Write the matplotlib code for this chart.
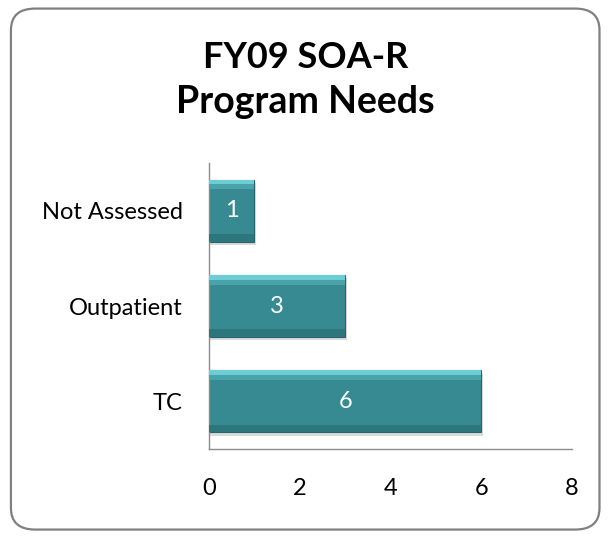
import matplotlib.pyplot as plt
from matplotlib.patches import FancyBboxPatch

categories = ["TC", "Outpatient", "Not Assessed"]
values = [6, 3, 1]
x_ticks = [0, 2, 4, 6, 8]

BAR_COLOR = "#378a91"
EDGE_COLOR = "#26666c"
HIGHLIGHT = "#6ccdd5"
AXIS_COLOR = "#8c8c8c"

plt.rcParams["font.family"] = ["Lato", "DejaVu Sans"]

fig = plt.figure(figsize=(6.08, 5.36), dpi=100)

# rounded frame around the whole chart
frame = FancyBboxPatch(
    (0.018, 0.012), 0.968, 0.972,
    boxstyle="round,pad=0,rounding_size=0.04",
    transform=fig.transFigure, facecolor="white",
    edgecolor="#808080", lw=1.6, zorder=-10,
)
fig.patches.append(frame)

fig.text(0.502, 1 - 57 / 536, "FY09 SOA-R", ha="center", va="center",
         fontsize=26, fontweight="bold", color="black")
fig.text(0.502, 1 - 102 / 536, "Program Needs", ha="center", va="center",
         fontsize=27, fontweight="bold", color="black")

ax = fig.add_axes([0.3438, 0.1623, 0.597, 0.5336], zorder=5)
ax.patch.set_alpha(0)

ypos = list(range(len(categories)))
h = 0.65
# soft shadow under each bar
ax.barh([y - 0.035 for y in ypos], values, height=h, left=0.03,
        color="#999999", alpha=0.35, lw=0, zorder=1)
ax.barh(ypos, values, height=h, color=BAR_COLOR, edgecolor=EDGE_COLOR, lw=0.8, zorder=2)
# bevel: light strip on top, darker band at the bottom
ax.barh([y + h / 2 - 0.025 for y in ypos], values, height=0.05,
        color=HIGHLIGHT, lw=0, zorder=3)
ax.barh([y + h / 2 - 0.075 for y in ypos], values, height=0.05,
        color="#4aa3aa", lw=0, zorder=3)
ax.barh([y - h / 2 + 0.04 for y in ypos], values, height=0.08,
        color="#2c767c", lw=0, zorder=3)

for y, v in zip(ypos, values):
    ax.text(v / 2, y, str(v), ha="center", va="center",
            color="white", fontsize=17, zorder=4)

ax.set_xlim(0, 8)
ax.set_ylim(-0.5, len(categories) - 0.5)
ax.set_xticks(x_ticks)
ax.set_yticks(ypos)
ax.set_yticklabels(categories)
ax.tick_params(axis="both", length=0, labelsize=17, colors="black")
ax.tick_params(axis="x", pad=21)
ax.tick_params(axis="y", pad=19)

for s in ["top", "right"]:
    ax.spines[s].set_visible(False)
for s in ["left", "bottom"]:
    ax.spines[s].set_color(AXIS_COLOR)
    ax.spines[s].set_linewidth(1.0)

fig.savefig("out.png", dpi=100)
